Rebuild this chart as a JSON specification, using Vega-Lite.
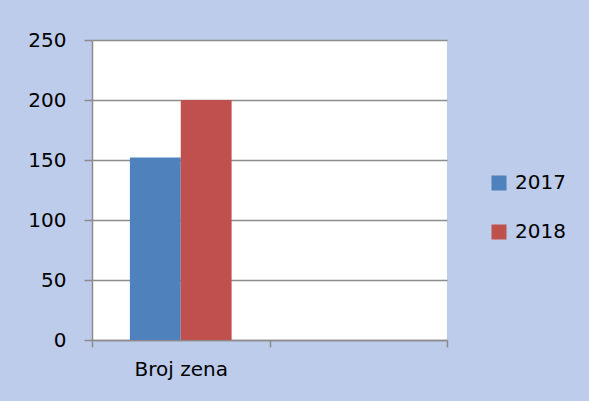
{
  "$schema": "https://vega.github.io/schema/vega-lite/v6.json",
  "width": 355,
  "height": 300,
  "autosize": "none",
  "padding": {"left": 92, "top": 40, "right": 142, "bottom": 61},
  "background": "#BCCCEA",
  "data": {"values": [
    {"category": "Broj zena", "year": "2017", "value": 152},
    {"category": "Broj zena", "year": "2018", "value": 200}
  ]},
  "mark": {"type": "bar"},
  "encoding": {
    "x": {
      "field": "category", "type": "nominal",
      "scale": {"domain": ["Broj zena", " "], "paddingInner": 0, "paddingOuter": 0},
      "axis": {"title": null, "labelAngle": 0, "tickBand": "extent", "grid": false,
               "domainColor": "#8c8c8c", "domainWidth": 1.5, "tickColor": "#8c8c8c", "tickWidth": 1.5, "tickSize": 7,
               "labelPadding": 12, "labelFontSize": 20, "labelFont": "DejaVu Sans", "labelColor": "#000000"}
    },
    "xOffset": {
      "field": "year", "type": "nominal",
      "scale": {"paddingInner": 0, "paddingOuter": 0.745}
    },
    "y": {
      "field": "value", "type": "quantitative",
      "scale": {"domain": [0, 250]},
      "axis": {"title": null, "values": [0, 50, 100, 150, 200, 250], "grid": true,
               "gridColor": "#8c8c8c", "gridWidth": 1.5, "domainColor": "#8c8c8c", "domainWidth": 1.5,
               "tickColor": "#8c8c8c", "tickWidth": 1.5, "tickSize": 8, "labelPadding": 18,
               "labelFontSize": 20, "labelFont": "DejaVu Sans", "labelColor": "#000000"}
    },
    "color": {
      "field": "year", "type": "nominal",
      "scale": {"domain": ["2017", "2018"], "range": ["#4F81BD", "#C0504D"]},
      "legend": {"title": null, "orient": "none", "legendX": 397, "legendY": 133,
                 "symbolType": "square", "symbolSize": 225, "symbolStrokeWidth": 0,
                 "labelFontSize": 20, "labelFont": "DejaVu Sans", "labelColor": "#000000",
                 "labelOffset": 6, "rowPadding": 29, "padding": 0}
    }
  },
  "config": {"view": {"fill": "#FFFFFF", "stroke": null}}
}
